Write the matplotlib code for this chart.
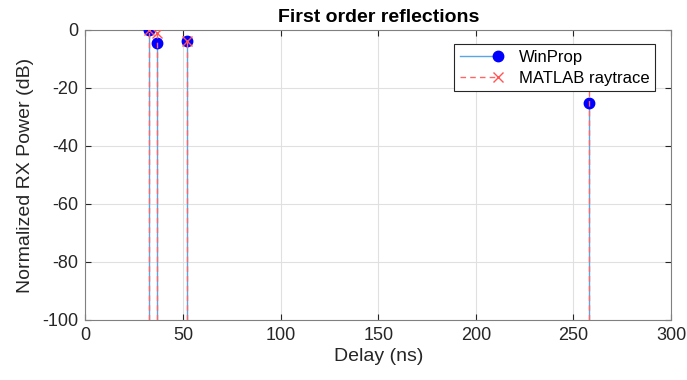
import matplotlib
matplotlib.use("Agg")
import matplotlib.pyplot as plt
from matplotlib.lines import Line2D
from matplotlib.legend_handler import HandlerBase

plt.rcParams['font.family'] = ['Liberation Sans', 'DejaVu Sans']
plt.rcParams['axes.unicode_minus'] = False

delay_winprop = [32.8, 36.5, 52.0, 258.0]
power_winprop = [0.0, -4.6, -3.8, -25.3]
delay_raytrace = [32.8, 36.5, 52.0, 258.0]
power_raytrace = [0.0, -0.9, -3.8, -12.0]
xticks = [0, 50, 100, 150, 200, 250, 300]
yticks = [-100, -80, -60, -40, -20, 0]

fig = plt.figure(figsize=(6.87, 3.80), dpi=100)
ax = fig.add_axes([85.4/687, 1-320/380, (671-85.4)/687, 290/380])

ax.vlines(delay_winprop, -100, power_winprop, colors='#5AA5E6', lw=1.0, zorder=3)
ax.plot(delay_winprop, power_winprop, 'o', color='#0000FF', ms=7.5, zorder=4)
ax.vlines(delay_raytrace, -100, power_raytrace, colors='#FF6666', lw=1.0,
          linestyles=(0, (4, 3)), zorder=5)
ax.plot(delay_raytrace, power_raytrace, 'x', color='#FF5555', ms=7, mew=1.0, zorder=6)


class RightMarkerHandler(HandlerBase):
    def __init__(self, dashes=None):
        super().__init__()
        self.dashes = dashes

    def create_artists(self, legend, orig, xdescent, ydescent, width, height,
                       fontsize, trans):
        y = height / 2 - ydescent
        x0, x1 = -xdescent, width - xdescent
        line = Line2D([x0, x1 - 4], [y, y], color=orig.get_color(),
                      lw=orig.get_linewidth())
        if self.dashes:
            line.set_dashes(self.dashes)
        mk = Line2D([x1 - 4], [y], ls='none', marker=orig.get_marker(),
                    mfc=orig.get_markerfacecolor(), mec=orig.get_markeredgecolor(),
                    ms=orig.get_markersize(), mew=orig.get_markeredgewidth())
        line.set_transform(trans)
        mk.set_transform(trans)
        return [line, mk]


h1 = Line2D([], [], color='#5AA5E6', lw=1.0, marker='o', mfc='#0000FF', mec='#0000FF', ms=7.5)
h2 = Line2D([], [], color='#FF6666', lw=1.0, marker='x', mec='#FF5555', mfc='#FF5555', ms=7, mew=1.0)
leg = ax.legend([h1, h2], ['WinProp', 'MATLAB raytrace'], loc='upper right',
                bbox_to_anchor=(0.9727, 0.952), borderaxespad=0, fontsize=12,
                fancybox=False, edgecolor='#262626', framealpha=1, borderpad=0.35,
                handlelength=2.6, labelspacing=0.35, handletextpad=0.9,
                handler_map={h1: RightMarkerHandler(), h2: RightMarkerHandler((4, 3))})
leg.get_frame().set_linewidth(0.8)
leg.set_zorder(10)

ax.set_xlim(0, 300)
ax.set_ylim(-100, 0)
ax.set_xticks(xticks)
ax.set_yticks(yticks)
ax.grid(True, color='#E0E0E0', lw=0.8)
ax.set_axisbelow(True)
ax.tick_params(direction='in', top=True, right=True, labelsize=13,
               color='#262626', labelcolor='#262626', length=4, pad=5)
for s in ax.spines.values():
    s.set_color('#808080')
    s.set_linewidth(0.8)

ax.set_title('First order reflections', fontsize=14, fontweight='bold', pad=6)
ax.set_xlabel('Delay (ns)', fontsize=14, color='#262626', labelpad=3)
ax.set_ylabel('Normalized RX Power (dB)', fontsize=14, color='#262626', labelpad=6)

fig.savefig('out.png', dpi=100)
